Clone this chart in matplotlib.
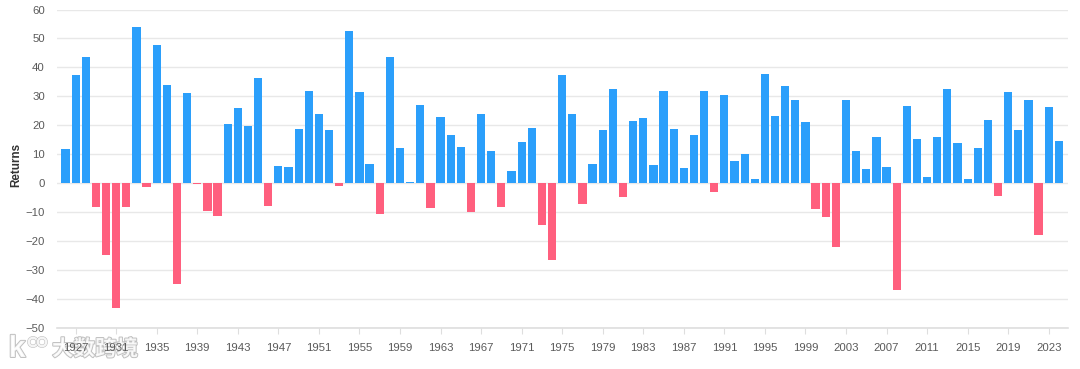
import numpy as np
import matplotlib.pyplot as plt
import matplotlib.patheffects as pe
from matplotlib.patches import Circle

plt.rcParams['font.family'] = ['Liberation Sans', 'Noto Sans CJK SC', 'DejaVu Sans']

years = list(range(1926, 2025))
returns = [
    11.6, 37.5, 43.6, -8.4, -24.9, -43.3, -8.2, 54.0, -1.4, 47.7,
    33.9, -35.0, 31.1, -0.4, -9.8, -11.6, 20.3, 25.9, 19.8, 36.4,
    -8.1, 5.7, 5.5, 18.8, 31.7, 24.0, 18.4, -1.0, 52.6, 31.6,
    6.6, -10.8, 43.4, 12.0, 0.5, 26.9, -8.7, 22.8, 16.5, 12.5,
    -10.0, 24.0, 11.0, -8.4, 4.0, 14.3, 19.0, -14.7, -26.5, 37.2,
    23.8, -7.2, 6.6, 18.4, 32.4, -4.9, 21.5, 22.5, 6.3, 31.7,
    18.7, 5.2, 16.6, 31.7, -3.1, 30.5, 7.6, 10.1, 1.3, 37.6,
    23.0, 33.4, 28.6, 21.0, -9.1, -11.9, -22.1, 28.7, 10.9, 4.9,
    15.8, 5.5, -37.0, 26.5, 15.1, 2.1, 16.0, 32.4, 13.7, 1.4,
    12.0, 21.8, -4.4, 31.5, 18.4, 28.7, -18.1, 26.3, 14.5,
]
y_ticks = list(range(-50, 70, 10))
x_ticks = list(range(1927, 2025, 4))

BLUE = '#2b9ffb'
RED = '#ff5f7e'
GRID = '#e8e8e8'
TEXT = '#5a5a5a'

W, H = 1080, 369
fig = plt.figure(figsize=(W / 100, H / 100), dpi=100)
ax = fig.add_axes([57.3 / W, 1 - 327.5 / H, (1068 - 57.3) / W, (327.5 - 9.5) / H])
ax.patch.set_visible(False)  # 水印在坐标轴下面
ax.set_zorder(2)

colors = [BLUE if v >= 0 else RED for v in returns]
ax.bar(years, returns, width=0.81, color=colors, linewidth=0, zorder=3)

ax.set_xlim(1925.19, 2024.9)
ax.set_ylim(-50, 60)
ax.set_yticks(y_ticks)
ax.set_xticks(x_ticks)
ax.grid(axis='y', color=GRID, lw=1, zorder=0)
ax.set_axisbelow(True)

for s in ['top', 'right', 'left']:
    ax.spines[s].set_visible(False)
ax.spines['bottom'].set_color('#dedede')
ax.spines['bottom'].set_linewidth(1.2)

ax.tick_params(axis='y', length=0, pad=9, labelsize=8.2, labelcolor=TEXT)
ax.tick_params(axis='x', length=4, width=0.8, color='#dedede', pad=7, labelsize=8.2, labelcolor=TEXT)

fig.text(16 / W, 1 - 165 / H, 'Returns', rotation=90, ha='center', va='center',
         fontsize=8.4, fontweight='bold', color='#333333')

# 水印
halo = [pe.withStroke(linewidth=1.4, foreground='#b5b5b5')]
fig.text(52 / W, 1 - 349 / H, '大数跨境', fontsize=15.5, fontweight='bold', color='white',
         ha='left', va='center', path_effects=halo, alpha=0.85, zorder=-1,
         family=['Noto Sans CJK SC', 'DejaVu Sans'])
fig.text(17 / W, 1 - 349 / H, 'k', fontsize=22, fontweight='bold', color='white',
         ha='center', va='center', path_effects=halo, alpha=0.85, zorder=-1)
overlay = fig.add_axes([0, 0, 1, 1], facecolor='none')
overlay.set_zorder(1)
overlay.set_xlim(0, W)
overlay.set_ylim(H, 0)
overlay.axis('off')
for cx in [33, 42]:
    overlay.add_patch(Circle((cx, 342), 4.2, fill=False, ec='white', lw=1.6, alpha=0.85,
                             path_effects=[pe.withStroke(linewidth=2.4, foreground='#b5b5b5')]))

fig.savefig('out.png', dpi=100)
